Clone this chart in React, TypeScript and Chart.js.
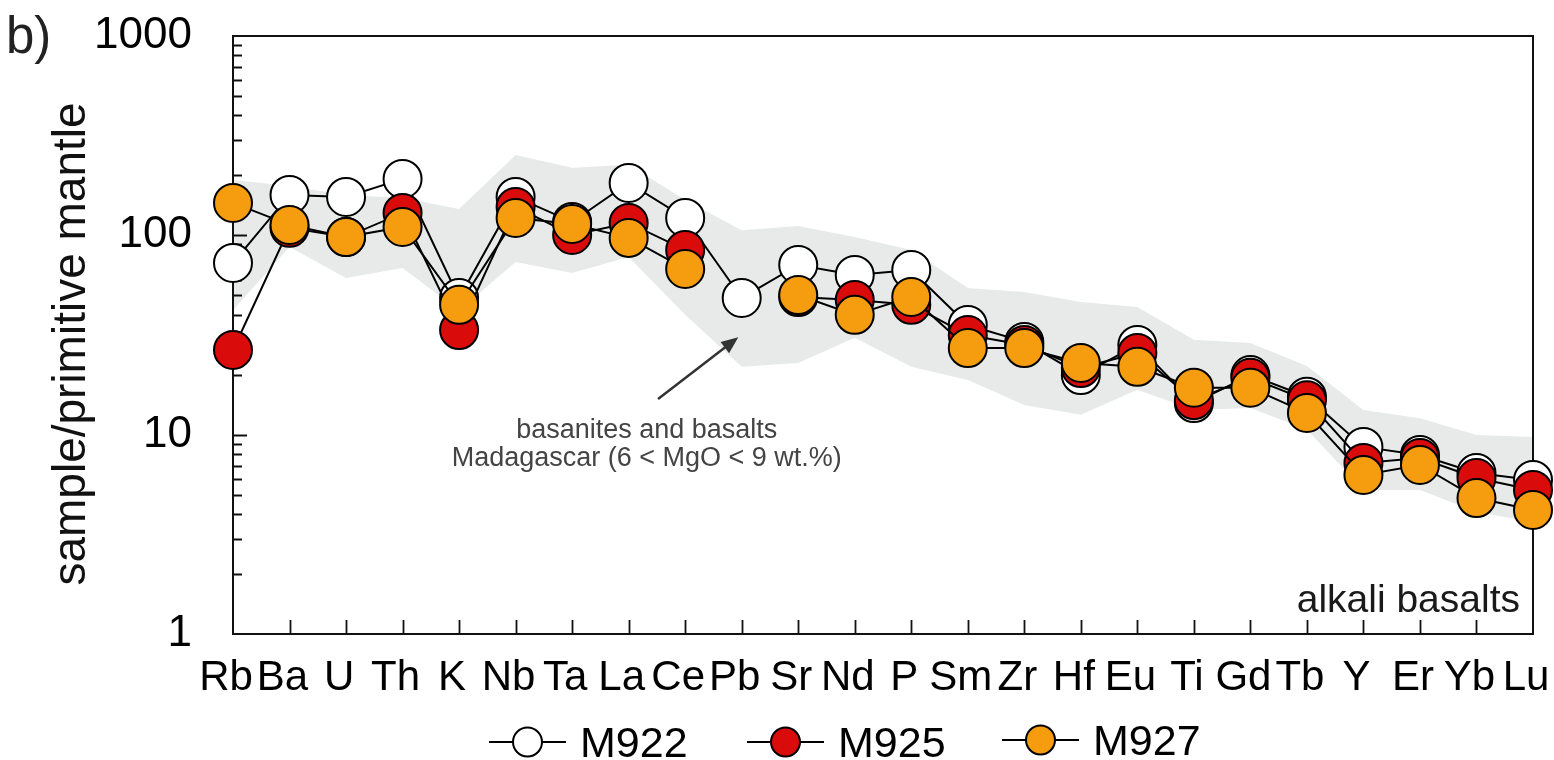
import React, { useEffect, useRef } from 'react';
import { Chart, registerables } from 'chart.js';

Chart.register(...registerables);

const FONT = '"Liberation Sans", Arial, Helvetica, sans-serif';

const elements = ['Rb', 'Ba', 'U', 'Th', 'K', 'Nb', 'Ta', 'La', 'Ce', 'Pb', 'Sr', 'Nd', 'P', 'Sm', 'Zr', 'Hf', 'Eu', 'Ti', 'Gd', 'Tb', 'Y', 'Er', 'Yb', 'Lu'];

const m922 = [72.7, 159.5, 155.8, 191.9, 48.5, 155.8, 116.7, 183.2, 122.3, 48.5, 71.0, 63.3, 67.0, 35.5, 29.2, 19.9, 28.2, 14.4, 19.9, 15.5, 8.68, 7.91, 6.43, 5.93];
const m925 = [26.6, 109, 98, 129.5, 33.5, 138.8, 100.5, 115.4, 84.5, null, 49, 47.4, 44.8, 31.6, 28.2, 21.6, 25.7, 14.9, 19.3, 14.9, 7.21, 7.64, 6.06, 5.28];
const m927 = [145.4, 112.8, 98.2, 110.2, 44.8, 122.3, 114.1, 97.1, 67.8, null, 50.2, 39.9, 49.1, 27.2, 27.2, 22.9, 21.9, 17.2, 17.2, 12.85, 6.28, 7.05, 4.81, 4.19];

const bandUpper = [189.7, 177, 159.5, 154, 135.7, 253, 218, 226, 150.6, 106, 111.4, 98.2, 84.5, 54.5, 52, 46.3, 43.7, 29.9, 28.8, 22.1, 13.3, 12.1, 9.97, 9.73];
const bandLower = [42.2, 87.5, 61.1, 68.6, 42, 73.5, 64.8, 77.9, 39.9, 21.9, 22.9, 30.6, 21.9, 18.8, 14.1, 12.6, 16.8, 13.3, 13.6, 10.6, 5.28, 5.28, 4.09, 3.65];

const yTickLabels = [1, 10, 100, 1000];

const seriesNames = ['M922', 'M925', 'M927'];
const seriesColors = ['#ffffff', '#d90b0b', '#f59c0f'];
const bandColor = '#e8eaea';

const annotationLines = ['basanites and basalts', 'Madagascar (6 < MgO < 9 wt.%)'];
const sampleLabel = 'alkali basalts';
const panelLabel = 'b)';
const yTitle = 'sample/primitive mantle';

const decorations = {
  id: 'decorations',
  beforeDatasetsDraw(chart: any) {
    const { ctx, chartArea, scales } = chart;
    const { left, right, top, bottom } = chartArea;
    const x = scales.x;
    const y = scales.y;
    ctx.save();
    ctx.strokeStyle = '#111';
    ctx.lineWidth = 2;
    ctx.strokeRect(left, top, right - left, bottom - top);
    ctx.lineWidth = 1.8;
    ctx.beginPath();
    for (let d = 1; d < 1000; d *= 10) {
      for (let k = 1; k <= 9; k++) {
        const v = k * d;
        if (v === 1) continue;
        const py = Math.round(y.getPixelForValue(v)) + 0.5;
        const len = k === 1 ? 14 : 9;
        ctx.moveTo(left, py);
        ctx.lineTo(left + len, py);
      }
    }
    for (let i = 1; i < elements.length - 1; i++) {
      const px = Math.round(x.getPixelForValue(i)) + 0.5;
      ctx.moveTo(px, bottom);
      ctx.lineTo(px, bottom - 14);
    }
    ctx.stroke();
    ctx.restore();
  },
  afterDraw(chart: any) {
    const { ctx, chartArea, scales } = chart;
    const { right, top, bottom } = chartArea;
    const x = scales.x;
    const y = scales.y;
    ctx.save();

    // panel label
    ctx.fillStyle = '#222';
    ctx.font = `51px ${FONT}`;
    ctx.textAlign = 'left';
    ctx.textBaseline = 'alphabetic';
    ctx.fillText(panelLabel, 6, 53);

    // y title
    ctx.save();
    ctx.translate(85, (top + bottom) / 2 + 9);
    ctx.rotate(-Math.PI / 2);
    ctx.fillStyle = '#111';
    ctx.font = `46px ${FONT}`;
    ctx.textAlign = 'center';
    ctx.fillText(yTitle, 0, 0);
    ctx.restore();

    // annotation text
    ctx.fillStyle = '#444';
    ctx.font = `27px ${FONT}`;
    ctx.textAlign = 'center';
    const tx = x.getPixelForValue(7.32);
    ctx.fillText(annotationLines[0], tx, y.getPixelForValue(9.6));
    ctx.fillText(annotationLines[1], tx, y.getPixelForValue(6.95));

    // arrow
    const ax0 = x.getPixelForValue(7.52);
    const ay0 = y.getPixelForValue(15.1);
    const ax1 = x.getPixelForValue(8.94);
    const ay1 = y.getPixelForValue(30.8);
    const ang = Math.atan2(ay1 - ay0, ax1 - ax0);
    const headLen = 17;
    const headW = 7;
    ctx.strokeStyle = '#333';
    ctx.fillStyle = '#333';
    ctx.lineWidth = 2.5;
    ctx.beginPath();
    ctx.moveTo(ax0, ay0);
    ctx.lineTo(ax1 - Math.cos(ang) * headLen * 0.8, ay1 - Math.sin(ang) * headLen * 0.8);
    ctx.stroke();
    ctx.beginPath();
    ctx.moveTo(ax1, ay1);
    const bx = ax1 - Math.cos(ang) * headLen;
    const by = ay1 - Math.sin(ang) * headLen;
    ctx.lineTo(bx + Math.sin(ang) * headW, by - Math.cos(ang) * headW);
    ctx.lineTo(bx - Math.sin(ang) * headW, by + Math.cos(ang) * headW);
    ctx.closePath();
    ctx.fill();

    // sample label
    ctx.fillStyle = '#1a1a1a';
    ctx.font = `39px ${FONT}`;
    ctx.textAlign = 'right';
    ctx.fillText(sampleLabel, right - 13, bottom - 22);

    // legend
    const legendX = [489, 747, 1002];
    const legendY = [742, 742, 740];
    ctx.font = `43px ${FONT}`;
    ctx.textAlign = 'left';
    for (let i = 0; i < seriesNames.length; i++) {
      const lx = legendX[i];
      const ly = legendY[i];
      ctx.strokeStyle = '#000';
      ctx.lineWidth = 2;
      ctx.beginPath();
      ctx.moveTo(lx, ly);
      ctx.lineTo(lx + 77, ly);
      ctx.stroke();
      ctx.beginPath();
      ctx.arc(lx + 38.5, ly, 14.5, 0, Math.PI * 2);
      ctx.fillStyle = seriesColors[i];
      ctx.fill();
      ctx.stroke();
      ctx.fillStyle = '#000';
      ctx.fillText(seriesNames[i], lx + 91, ly + 15);
    }
    ctx.restore();
  },
};

function seriesDataset(i: number, data: (number | null)[], order: number) {
  return {
    label: seriesNames[i],
    data,
    borderColor: '#000',
    borderWidth: 2,
    backgroundColor: seriesColors[i],
    pointBackgroundColor: seriesColors[i],
    pointBorderColor: '#000',
    pointBorderWidth: 2,
    pointRadius: 19,
    pointHoverRadius: 19,
    fill: false,
    spanGaps: false,
    clip: false as any,
    tension: 0,
    order,
  };
}

export default function App() {
  const ref = useRef<HTMLCanvasElement>(null);
  useEffect(() => {
    if (!ref.current) return;
    Chart.defaults.font.family = FONT;
    const chart = new Chart(ref.current, {
      type: 'line',
      data: {
        labels: elements,
        datasets: [
          seriesDataset(0, m922, 3),
          seriesDataset(1, m925, 2),
          seriesDataset(2, m927, 1),
          {
            label: 'band-upper',
            data: bandUpper,
            borderWidth: 0,
            borderColor: 'rgba(0,0,0,0)',
            backgroundColor: bandColor,
            pointRadius: 0,
            fill: '+1',
            tension: 0,
            order: 5,
          },
          {
            label: 'band-lower',
            data: bandLower,
            borderWidth: 0,
            borderColor: 'rgba(0,0,0,0)',
            backgroundColor: bandColor,
            pointRadius: 0,
            fill: false,
            tension: 0,
            order: 6,
          },
        ] as any,
      },
      options: {
        responsive: false,
        maintainAspectRatio: false,
        devicePixelRatio: 1,
        animation: false,
        events: [],
        layout: { padding: { top: 36, right: 19, left: 0, bottom: 0 } },
        plugins: {
          legend: { display: false },
          tooltip: { enabled: false },
          filler: { drawTime: 'beforeDatasetsDraw' } as any,
        },
        scales: {
          x: {
            type: 'category',
            offset: false,
            grid: { display: false, drawTicks: false },
            border: { display: false },
            ticks: {
              color: '#000',
              font: { size: 42, family: FONT },
              padding: 19,
              labelOffset: -7,
              autoSkip: false,
              maxRotation: 0,
              minRotation: 0,
            },
            afterFit(s: any) {
              s.height = 126;
              s.paddingLeft = 0;
              s.paddingRight = 0;
            },
          },
          y: {
            type: 'logarithmic',
            min: 1,
            max: 1000,
            grid: { display: false, drawTicks: false },
            border: { display: false },
            ticks: {
              color: '#000',
              font: { size: 44, family: FONT },
              padding: 41,
              autoSkip: false,
              callback: (v: any) => {
                const n = Number(v);
                return yTickLabels.some((t) => Math.abs(t - n) < 1e-9) ? String(n) : '';
              },
            },
            afterFit(s: any) {
              s.width = 233;
              s.paddingTop = 0;
              s.paddingBottom = 0;
            },
          },
        },
      },
      plugins: [decorations],
    });
    return () => chart.destroy();
  }, []);

  return (
    <div style={{ position: 'fixed', left: 0, top: 0, width: 1554, height: 760, background: '#fff' }}>
      <canvas ref={ref} width={1554} height={760} style={{ display: 'block', width: 1554, height: 760 }} />
    </div>
  );
}
